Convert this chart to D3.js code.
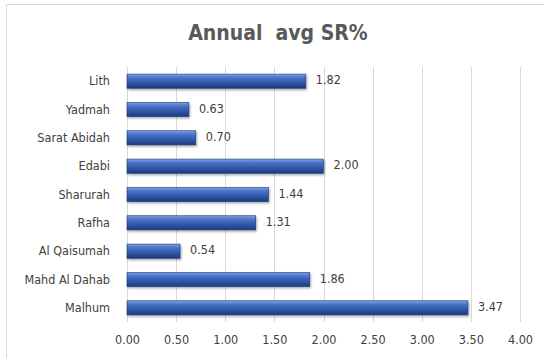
<!DOCTYPE html>
<html>
<head>
<meta charset="utf-8">
<script src="https://cdn.jsdelivr.net/npm/d3@7"></script>
<style>
  body { margin: 0; background: #fff; }
  svg { display: block; }
</style>
</head>
<body>
<div id="chart"></div>
<script>
// Data
const stations = ['Lith', 'Yadmah', 'Sarat Abidah', 'Edabi', 'Sharurah', 'Rafha', 'Al Qaisumah', 'Mahd Al Dahab', 'Malhum'];
const avgSR = [1.82, 0.63, 0.70, 2.00, 1.44, 1.31, 0.54, 1.86, 3.47];
const xTicks = [0, 0.5, 1, 1.5, 2, 2.5, 3, 3.5, 4];

const W = 544, H = 358;
const margin = { top: 67, right: 24, bottom: 36, left: 127 };
const width = 520 - margin.left;
const height = 322 - margin.top;
const font = '"DejaVu Sans Condensed", "DejaVu Sans", sans-serif';

const root = d3.select('#chart').append('svg')
    .attr('width', W)
    .attr('height', H);

// Chart frame
root.append('rect')
    .attr('x', 6.5).attr('y', 4.5)
    .attr('width', 548).attr('height', 360)
    .attr('fill', '#fff')
    .attr('stroke', '#d9d9d9');

// Bar gradient
const defs = root.append('defs');
const grad = defs.append('linearGradient')
    .attr('id', 'barGrad')
    .attr('x1', 0).attr('y1', 0).attr('x2', 0).attr('y2', 1);
[['0%', '#7fa3e0'], ['25%', '#4a74c6'], ['60%', '#3159ab'], ['100%', '#1d3a7c']]
    .forEach(([o, c]) => grad.append('stop').attr('offset', o).attr('stop-color', c));

const shadow = defs.append('filter').attr('id', 'shadow')
    .attr('x', '-5%').attr('y', '-20%').attr('width', '110%').attr('height', '160%');
shadow.append('feDropShadow')
    .attr('dx', 1).attr('dy', 1.5).attr('stdDeviation', 1)
    .attr('flood-color', '#000').attr('flood-opacity', 0.35);

// Title
root.append('text')
    .attr('x', 278)
    .attr('y', 40)
    .attr('text-anchor', 'middle')
    .attr('xml:space', 'preserve')
    .style('white-space', 'pre')
    .style('font-family', font)
    .style('font-weight', 'bold')
    .style('font-size', '21px')
    .style('fill', '#595959')
    .text('Annual  avg SR%');

const svg = root.append('g')
    .attr('transform', `translate(${margin.left},${margin.top})`);

// Scales
const x = d3.scaleLinear()
    .domain([0, 4])
    .range([0, width]);

const y = d3.scaleBand()
    .domain(stations)
    .range([0, height])
    .paddingInner(0.5)
    .paddingOuter(0.25);

// Gridlines
svg.append('g')
    .selectAll('line')
    .data(xTicks)
    .enter()
    .append('line')
    .attr('x1', d => Math.round(x(d)) + 0.5)
    .attr('x2', d => Math.round(x(d)) + 0.5)
    .attr('y1', 0)
    .attr('y2', height)
    .attr('stroke', '#d9d9d9');

// X axis labels
const xAxis = svg.append('g')
    .attr('transform', `translate(0,${height})`)
    .call(d3.axisBottom(x).tickValues(xTicks).tickFormat(d3.format('.2f')).tickSize(0).tickPadding(13));
xAxis.select('.domain').remove();
xAxis.selectAll('text')
    .style('font-family', font)
    .style('font-size', '12.5px')
    .style('fill', '#404040');

// Y axis labels
const yAxis = svg.append('g')
    .call(d3.axisLeft(y).tickSize(0).tickPadding(17));
yAxis.select('.domain').remove();
yAxis.selectAll('text')
    .style('font-family', font)
    .style('font-size', '12.5px')
    .style('fill', '#404040');

// Bars
svg.selectAll('.bar')
    .data(stations)
    .enter()
    .append('rect')
    .attr('class', 'bar')
    .attr('x', x(0))
    .attr('y', d => y(d))
    .attr('width', (d, i) => x(avgSR[i]) - x(0))
    .attr('height', y.bandwidth())
    .attr('fill', 'url(#barGrad)')
    .attr('stroke', '#1d3a7c')
    .attr('stroke-width', 0.6)
    .attr('filter', 'url(#shadow)');

// Value labels
svg.selectAll('.val')
    .data(stations)
    .enter()
    .append('text')
    .attr('class', 'val')
    .attr('x', (d, i) => x(avgSR[i]) + 10)
    .attr('y', d => y(d) + y.bandwidth() / 2)
    .attr('dy', '0.25em')
    .style('font-family', font)
    .style('font-size', '12.5px')
    .style('fill', '#404040')
    .text((d, i) => avgSR[i].toFixed(2));
</script>
</body>
</html>
